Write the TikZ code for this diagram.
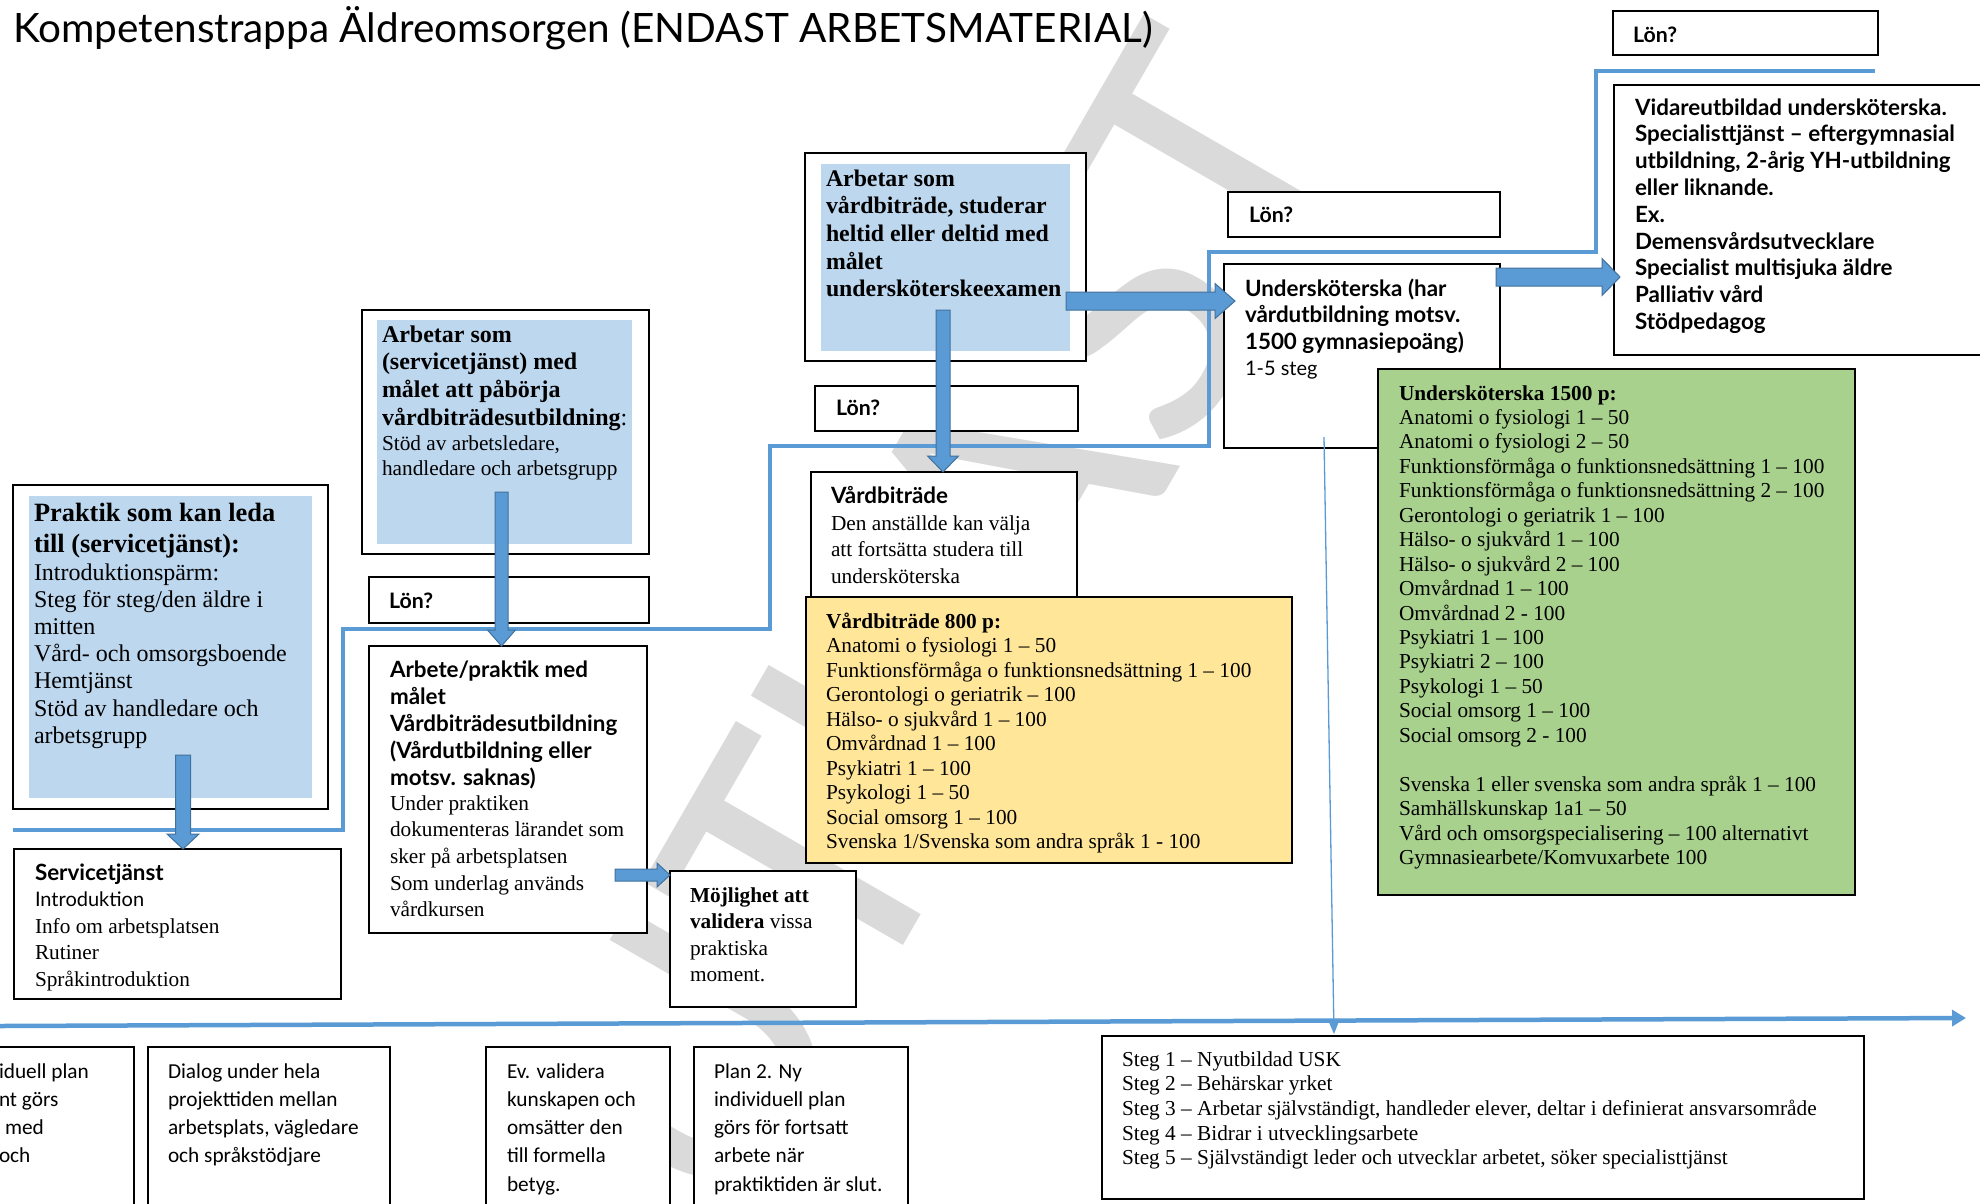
\documentclass[tikz,border=0pt]{standalone}
\usepackage{fontspec}
\setmainfont{Liberation Serif}
\newfontfamily\gillf{Lato}
\newfontfamily\calf{Carlito}
\usetikzlibrary{arrows.meta,calc}
\definecolor{barblue}{HTML}{5B9BD5}
\definecolor{barline}{HTML}{41719C}
\definecolor{paleblue}{HTML}{BDD7EE}
\definecolor{goldbg}{HTML}{FFE699}
\definecolor{greenbg}{HTML}{A9D18E}
\definecolor{wmark}{HTML}{DADADA}
\tikzset{
 box/.style={draw=black, line width=2pt, fill=white, inner sep=0pt, outer sep=0pt, anchor=north west},
 bluebg/.style={fill=paleblue, draw=none, inner sep=0pt, outer sep=0pt, anchor=north west},
 txt/.style={anchor=north west, inner sep=0pt, outer sep=0pt, align=left},
 stair/.style={draw=barblue, line width=3.5pt, line join=miter},
 blk/.style={fill=barblue, draw=barline, line width=1pt},
}
\newcommand\ser[2]{\fontsize{#1}{#2}\selectfont}
\newcommand\bx[6][box]{\node[#1,minimum width=#5,minimum height=#6] (#2) at (#3,#4) {};}
\newcommand\tx[6]{\node[txt,font=#5] (#1) at (#2,#3-#4) {\rule{0pt}{#4pt}#6};}
\newcommand\darrow[5]{\path[blk] let \p1=(#1), \p2=(#2) in (\x1-#3pt,\y1) -- (\x1+#3pt,\y1) -- (\x1+#3pt,\y2+#5pt) -- (\x1+#4pt,\y2+#5pt) -- (\x1,\y2) -- (\x1-#4pt,\y2+#5pt) -- (\x1-#3pt,\y2+#5pt) -- cycle;}
\newcommand\rarrow[5]{\path[blk] let \p1=(#1), \p2=(#2) in (\x1,\y1+#3pt) -- (\x2-#5pt,\y1+#3pt) -- (\x2-#5pt,\y1+#4pt) -- (\x2,\y1) -- (\x2-#5pt,\y1-#4pt) -- (\x2-#5pt,\y1-#3pt) -- (\x1,\y1-#3pt) -- cycle;}
\begin{document}
\begin{tikzpicture}[x=1pt,y=-1pt]
\useasboundingbox (0,0) rectangle (1980,1203);
\clip (0,0) rectangle (1980,1203);
\fill[white] (0,0) rectangle (1980,1203);
% watermark
\node[font=\calf\fontsize{400}{400}\selectfont, text=wmark, rotate=60, inner sep=0pt] (wm) at (941,624) {UTKAST};
% staircase line
\coordinate (s0) at (13,830); \coordinate (s1) at (343,830); \coordinate (s2) at (343,629);
\coordinate (s3) at (770,629); \coordinate (s4) at (770,446); \coordinate (s5) at (1209,446);
\coordinate (s6) at (1209,252); \coordinate (s7) at (1596,252); \coordinate (s8) at (1596,71);
\coordinate (s9) at (1875,71);
\draw[stair] (s0) -- (s1) -- (s2) -- (s3) -- (s4) -- (s5) -- (s6) -- (s7) -- (s8) -- (s9);
% timeline
\coordinate (tl0) at (0,1026); \coordinate (tl1) at (1966,1018);
\draw[barblue, line width=4.5pt, -{Triangle[length=14pt,width=16pt]}] (tl0) -- (tl1);
% boxes
\bx{praktik}{13}{485}{315}{324}
\bx[bluebg]{praktikbg}{29}{496}{283}{302}
\bx{serv}{14}{849}{327}{150}
\bx{arbsv}{362}{310}{287}{244}
\bx[bluebg]{arbsvbg}{377}{320}{255}{224}
\bx{lon4}{369}{577}{280}{46}
\bx{arbete}{369}{646}{278}{287}
\bx{mojl}{670}{871}{186}{136}
\bx{arbvb}{805}{153}{281}{208}
\bx[bluebg]{arbvbbg}{821}{164}{249}{187}
\bx{lon3}{815}{386}{263}{45}
\bx{vb}{811}{472}{266}{125}
\bx[box,fill=goldbg]{yellow}{806}{597}{486}{266}
\bx{lon2}{1228}{192}{272}{45}
\bx{usk}{1224}{264}{276}{184}
\bx[box,fill=greenbg]{green}{1378}{369}{477}{526}
\bx{lon1}{1613}{11}{265}{44}
\bx{vidare}{1614}{85}{380}{270}
\bx{steg}{1102}{1036}{762}{163}
\bx{w1}{-20}{1047}{154}{175}
\bx{w2}{148}{1047}{242}{175}
\bx{w3}{486}{1047}{184}{175}
\bx{w4}{694}{1047}{214}{175}
% texts
\tx{title}{13}{42}{42}{\gillf\ser{40.5}{42}}{Kompetenstrappa Äldreomsorgen (ENDAST ARBETSMATERIAL)}
\tx{tlon1}{1633}{42}{22}{\gillf\bfseries\ser{21.3}{26}}{Lön?}
\tx{tlon2}{1249}{222}{22}{\gillf\bfseries\ser{21.3}{26}}{Lön?}
\tx{tlon3}{836}{415}{22}{\gillf\bfseries\ser{21.3}{26}}{Lön?}
\tx{tlon4}{389}{608}{22}{\gillf\bfseries\ser{21.3}{26}}{Lön?}
\tx{tvid}{1635}{115}{23}{\gillf\bfseries\ser{22.4}{26.8}}{Vidareutbildad undersköterska.\\Specialisttjänst – eftergymnasial\\utbildning, 2-årig YH-utbildning\\eller liknande.\\Ex.\\Demensvårdsutvecklare\\Specialist multisjuka äldre\\Palliativ vård\\Stödpedagog}
\tx{tusk}{1245}{296}{23}{\gillf\bfseries\ser{22.4}{26.5}}{Undersköterska (har\\vårdutbildning motsv.\\1500 gymnasiepoäng)}
\tx{tusk2}{1245}{375}{22}{\gillf\ser{20}{26.5}}{1-5 steg}
\tx{tarbvb}{826}{186}{25}{\bfseries\ser{23.8}{27.7}}{Arbetar som\\vårdbiträde, studerar\\heltid eller deltid med\\målet\\undersköterskeexamen}
\tx{tarbsv}{382}{342}{25}{\bfseries\ser{24}{27.7}}{Arbetar som\\(servicetjänst) med\\målet att påbörja\\vårdbiträdesutbildning\mdseries:}
\tx{tarbsv2}{382}{450}{22}{\ser{21.3}{25.5}}{Stöd av arbetsledare,\\handledare och arbetsgrupp}
\tx{tprak}{34}{521}{28}{\bfseries\ser{26.4}{31}}{Praktik som kan leda\\till (servicetjänst):}
\tx{tprak2}{34}{580}{25}{\ser{24}{27.2}}{Introduktionspärm:\\Steg för steg/den äldre i\\mitten\\Vård- och omsorgsboende\\Hemtjänst\\Stöd av handledare och\\arbetsgrupp}
\tx{tserv}{35}{880}{23}{\gillf\bfseries\ser{22.4}{26.5}}{Servicetjänst}
\tx{tserv2}{35}{906}{22}{\gillf\ser{20}{26.5}}{Introduktion}
\tx{tserv3}{35}{933}{22}{\ser{21.3}{26.5}}{Info om arbetsplatsen\\Rutiner\\Språkintroduktion}
\tx{tarb}{390}{677}{23}{\gillf\bfseries\ser{22.4}{27}}{Arbete/praktik med\\målet\\Vårdbiträdesutbildning\\(Vårdutbildning eller\\motsv. saknas)}
\tx{tarb2}{390}{810}{22}{\ser{21.3}{26.7}}{Under praktiken\\dokumenteras lärandet som\\sker på arbetsplatsen\\Som underlag används\\vårdkursen}
\tx{tmojl}{690}{902}{22}{\ser{21.3}{26.5}}{\textbf{Möjlighet att}\\\textbf{validera} vissa\\praktiska\\moment.}
\tx{tvb}{831}{503}{23}{\gillf\bfseries\ser{22.4}{26.5}}{Vårdbiträde}
\tx{tvb2}{831}{530}{22}{\ser{21.3}{26.5}}{Den anställde kan välja\\att fortsätta studera till\\undersköterska}
\tx{tyel}{826}{628}{22}{\ser{21.3}{24.5}}{\textbf{Vårdbiträde 800 p:}\\Anatomi o fysiologi 1 – 50\\Funktionsförmåga o funktionsnedsättning 1 – 100\\Gerontologi o geriatrik – 100\\Hälso- o sjukvård 1 – 100\\Omvårdnad 1 – 100\\Psykiatri 1 – 100\\Psykologi 1 – 50\\Social omsorg 1 – 100\\Svenska 1/Svenska som andra språk 1 - 100}
\tx{tgreen}{1399}{400}{22}{\ser{21.3}{24.45}}{\textbf{Undersköterska 1500 p:}\\Anatomi o fysiologi 1 – 50\\Anatomi o fysiologi 2 – 50\\Funktionsförmåga o funktionsnedsättning 1 – 100\\Funktionsförmåga o funktionsnedsättning 2 – 100\\Gerontologi o geriatrik 1 – 100\\Hälso- o sjukvård 1 – 100\\Hälso- o sjukvård 2 – 100\\Omvårdnad 1 – 100\\Omvårdnad 2 - 100\\Psykiatri 1 – 100\\Psykiatri 2 – 100\\Psykologi 1 – 50\\Social omsorg 1 – 100\\Social omsorg 2 - 100\\[24.45pt]Svenska 1 eller svenska som andra språk 1 – 100\\Samhällskunskap 1a1 – 50\\Vård och omsorgspecialisering – 100 alternativt\\Gymnasiearbete/Komvuxarbete 100}
\tx{tsteg}{1122}{1066}{22}{\ser{21.3}{24.7}}{Steg 1 – Nyutbildad USK\\Steg 2 – Behärskar yrket\\Steg 3 – Arbetar självständigt, handleder elever, deltar i definierat ansvarsområde\\Steg 4 – Bidrar i utvecklingsarbete\\Steg 5 – Självständigt leder och utvecklar arbetet, söker specialisttjänst}
\tx{tw1}{-1}{1078}{22}{\calf\ser{21.3}{28.3}}{iduell plan\\nt görs\\\hspace*{6pt}med\\och}
\tx{tw2}{168}{1078}{22}{\calf\ser{21.3}{28.3}}{Dialog under hela\\projekttiden mellan\\arbetsplats, vägledare\\och språkstödjare}
\tx{tw3}{507}{1078}{22}{\calf\ser{21.3}{28.3}}{Ev. validera\\kunskapen och\\omsätter den\\till formella\\betyg.}
\tx{tw4}{714}{1078}{22}{\calf\ser{21.3}{28.3}}{Plan 2. Ny\\individuell plan\\görs för fortsatt\\arbete när\\praktiktiden är slut.}
% block arrows
\coordinate (a1s) at (183,755);
\darrow{a1s}{a1s |- serv.north}{7.5}{16}{15}
\coordinate (a2s) at (501.5,492);
\darrow{a2s}{a2s |- arbete.north}{6.5}{14}{16}
\coordinate (a3s) at (943,310);
\darrow{a3s}{a3s |- vb.north}{7}{15.5}{16}
\coordinate (a4s) at (1066,301);
\coordinate (a4e) at ($(usk.west |- a4s)+(11,0)$);
\rarrow{a4s}{a4e}{9}{17.5}{20}
\coordinate (a5s) at (1496,277);
\coordinate (a5e) at ($(vidare.west |- a5s)+(6,0)$);
\rarrow{a5s}{a5e}{9}{18.5}{18}
\coordinate (a6s) at (615,875);
\rarrow{a6s}{mojl.west |- a6s}{6}{12}{13}
% thin arrow to timeline
\coordinate (th0) at (1324,437); \coordinate (th1) at (1334,1034);
\draw[barblue, line width=1.3pt, -{Triangle[length=15pt,width=12pt]}] (th0) -- (th1);
\end{tikzpicture}
\end{document}
